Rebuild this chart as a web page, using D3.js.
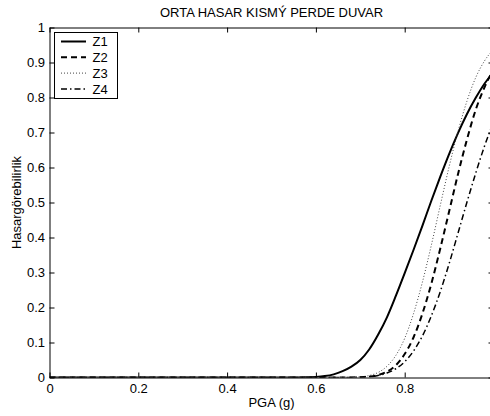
<!DOCTYPE html>
<html>
<head>
<meta charset="utf-8">
<script src="https://cdn.jsdelivr.net/npm/d3@7"></script>
<style>
  html, body { margin: 0; padding: 0; background: #fff; }
  svg { display: block; font-family: "Liberation Sans", Arial, Helvetica, sans-serif; }
</style>
</head>
<body>
<svg id="chart" width="490" height="416"></svg>
<script>
// PGA values (g) shared by all fragility curves
const pga = [0, 0.1, 0.2, 0.3, 0.4, 0.5, 0.52, 0.54, 0.56, 0.58, 0.60, 0.62, 0.64, 0.66, 0.68,
             0.70, 0.72, 0.74, 0.76, 0.78, 0.80, 0.82, 0.84, 0.86, 0.88, 0.90, 0.92,
             0.94, 0.96, 0.98, 1.00];

// Probability of exceedance for each zone
const z1 = [0, 0, 0, 0, 0, 0, 0, 0, 0, 0.0005, 0.0015, 0.004, 0.009, 0.018, 0.031,
            0.050, 0.080, 0.122, 0.172, 0.233, 0.298, 0.365, 0.434, 0.505, 0.573, 0.638, 0.698,
            0.752, 0.799, 0.840, 0.872];
const z2 = [0, 0, 0, 0, 0, 0, 0, 0, 0, 0, 0, 0, 0, 0, 0.0002,
            0.0009, 0.0027, 0.0071, 0.0168, 0.035, 0.067, 0.115, 0.183, 0.268, 0.368, 0.474, 0.581,
            0.679, 0.765, 0.830, 0.880];
const z3 = [0, 0, 0, 0, 0, 0, 0, 0, 0, 0, 0, 0, 0, 0.0001, 0.0006,
            0.002, 0.0057, 0.0143, 0.032, 0.063, 0.112, 0.183, 0.273, 0.378, 0.491, 0.602, 0.703,
            0.789, 0.857, 0.905, 0.938];
const z4 = [0, 0, 0, 0, 0, 0, 0, 0, 0, 0, 0, 0, 0, 0, 0,
            0.001, 0.0025, 0.006, 0.0128, 0.025, 0.045, 0.076, 0.119, 0.176, 0.245, 0.325, 0.412,
            0.500, 0.584, 0.662, 0.730];

const seriesNames = ["Z1", "Z2", "Z3", "Z4"];
const xTicks = [0, 0.2, 0.4, 0.6, 0.8];
const yTicks = [0, 0.1, 0.2, 0.3, 0.4, 0.5, 0.6, 0.7, 0.8, 0.9, 1];

const titleText = "ORTA HASAR KISMÝ PERDE DUVAR";
const xLabel = "PGA (g)";
const yLabel = "Hasargörebilirlik";

const fontSize = 13;
const svg = d3.select("#chart");
const plotLeft = 49.5, plotRight = 493.5, plotTop = 27.5, plotBottom = 377.5;

const x = d3.scaleLinear().domain([0, 1]).range([plotLeft, plotRight]);
const y = d3.scaleLinear().domain([0, 1]).range([plotBottom, plotTop]);

// Line styles per series
const styles = [
  { width: 2, dash: null, color: "#000" },
  { width: 2, dash: "6,4", color: "#000" },
  { width: 1, dash: "1,2", color: "#444" },
  { width: 1.5, dash: "6,3,1.5,3", color: "#000" }
];

const seriesData = [z1, z2, z3, z4];

// Curves
const line = d3.line()
  .x((d, i) => x(pga[i]))
  .y(d => y(d))
  .curve(d3.curveMonotoneX);

svg.append("clipPath").attr("id", "plotclip")
  .append("rect").attr("x", plotLeft).attr("y", plotTop - 2)
  .attr("width", plotRight - plotLeft).attr("height", plotBottom - plotTop + 2);

const curves = svg.append("g").attr("clip-path", "url(#plotclip)");
seriesData.forEach((vals, k) => {
  curves.append("path")
    .attr("d", line(vals))
    .attr("fill", "none")
    .attr("stroke", styles[k].color)
    .attr("stroke-width", styles[k].width)
    .attr("stroke-dasharray", styles[k].dash);
});

// Axes with inward ticks on all four sides
const tickLen = 5;
const gx = svg.append("g").attr("transform", `translate(0,${plotBottom})`)
  .call(d3.axisBottom(x).tickValues(xTicks).tickSizeInner(-tickLen).tickSizeOuter(0)
    .tickPadding(6).tickFormat(d3.format("")));
const gxTop = svg.append("g").attr("transform", `translate(0,${plotTop})`)
  .call(d3.axisTop(x).tickValues(xTicks).tickSizeInner(-tickLen).tickSizeOuter(0).tickFormat(""));
const gy = svg.append("g").attr("transform", `translate(${plotLeft},0)`)
  .call(d3.axisLeft(y).tickValues(yTicks).tickSizeInner(-tickLen).tickSizeOuter(0)
    .tickPadding(4.5).tickFormat(d3.format("")));
const gyRight = svg.append("g").attr("transform", `translate(${plotRight},0)`)
  .call(d3.axisRight(y).tickValues(yTicks).tickSizeInner(-tickLen).tickSizeOuter(0).tickFormat(""));

[gx, gxTop, gy, gyRight].forEach(g => {
  g.select(".domain").attr("stroke", "#000").attr("stroke-width", 1);
  g.selectAll(".tick line").attr("stroke", "#000");
  g.selectAll("text").attr("fill", "#000").attr("font-size", fontSize)
    .attr("font-family", "Liberation Sans, Arial, sans-serif");
});

// Title and axis labels
svg.append("text").attr("x", (plotLeft + plotRight) / 2).attr("y", 17)
  .attr("text-anchor", "middle").attr("font-size", fontSize).text(titleText);
svg.append("text").attr("x", (plotLeft + plotRight) / 2).attr("y", 407)
  .attr("text-anchor", "middle").attr("font-size", fontSize).text(xLabel);
svg.append("text")
  .attr("transform", `translate(21,${(plotTop + plotBottom) / 2}) rotate(-90)`)
  .attr("text-anchor", "middle").attr("font-size", fontSize).text(yLabel);

// Legend
const lg = svg.append("g").attr("transform", "translate(54.5,32.5)");
lg.append("rect").attr("width", 63).attr("height", 66)
  .attr("fill", "#fff").attr("stroke", "#000").attr("stroke-width", 1);
seriesNames.forEach((name, k) => {
  const yy = 9 + k * 15.8;
  lg.append("line").attr("x1", 6.5).attr("x2", 31.5).attr("y1", yy).attr("y2", yy)
    .attr("stroke", styles[k].color).attr("stroke-width", styles[k].width)
    .attr("stroke-dasharray", styles[k].dash);
  lg.append("text").attr("x", 38).attr("y", yy + 4.7).attr("font-size", fontSize).text(name);
});
</script>
</body>
</html>
